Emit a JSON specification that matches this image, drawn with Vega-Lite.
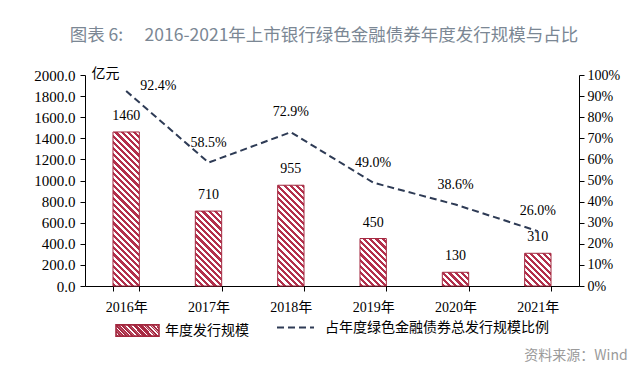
{
  "$schema": "https://vega.github.io/schema/vega-lite/v6.json",
  "background": "white",
  "padding": {"left": 33, "top": 26, "right": 5, "bottom": 2},
  "params": [
    {"name": "hatch", "value": [
      {"offset": 0, "color": "#b3304c"}, {"offset": 0.01667, "color": "#b3304c"}, {"offset": 0.01667, "color": "#fff"}, {"offset": 0.03333, "color": "#fff"},
      {"offset": 0.03333, "color": "#b3304c"}, {"offset": 0.05, "color": "#b3304c"}, {"offset": 0.05, "color": "#fff"}, {"offset": 0.06667, "color": "#fff"},
      {"offset": 0.06667, "color": "#b3304c"}, {"offset": 0.08333, "color": "#b3304c"}, {"offset": 0.08333, "color": "#fff"}, {"offset": 0.1, "color": "#fff"},
      {"offset": 0.1, "color": "#b3304c"}, {"offset": 0.11667, "color": "#b3304c"}, {"offset": 0.11667, "color": "#fff"}, {"offset": 0.13333, "color": "#fff"},
      {"offset": 0.13333, "color": "#b3304c"}, {"offset": 0.15, "color": "#b3304c"}, {"offset": 0.15, "color": "#fff"}, {"offset": 0.16667, "color": "#fff"},
      {"offset": 0.16667, "color": "#b3304c"}, {"offset": 0.18333, "color": "#b3304c"}, {"offset": 0.18333, "color": "#fff"}, {"offset": 0.2, "color": "#fff"},
      {"offset": 0.2, "color": "#b3304c"}, {"offset": 0.21667, "color": "#b3304c"}, {"offset": 0.21667, "color": "#fff"}, {"offset": 0.23333, "color": "#fff"},
      {"offset": 0.23333, "color": "#b3304c"}, {"offset": 0.25, "color": "#b3304c"}, {"offset": 0.25, "color": "#fff"}, {"offset": 0.26667, "color": "#fff"},
      {"offset": 0.26667, "color": "#b3304c"}, {"offset": 0.28333, "color": "#b3304c"}, {"offset": 0.28333, "color": "#fff"}, {"offset": 0.3, "color": "#fff"},
      {"offset": 0.3, "color": "#b3304c"}, {"offset": 0.31667, "color": "#b3304c"}, {"offset": 0.31667, "color": "#fff"}, {"offset": 0.33333, "color": "#fff"},
      {"offset": 0.33333, "color": "#b3304c"}, {"offset": 0.35, "color": "#b3304c"}, {"offset": 0.35, "color": "#fff"}, {"offset": 0.36667, "color": "#fff"},
      {"offset": 0.36667, "color": "#b3304c"}, {"offset": 0.38333, "color": "#b3304c"}, {"offset": 0.38333, "color": "#fff"}, {"offset": 0.4, "color": "#fff"},
      {"offset": 0.4, "color": "#b3304c"}, {"offset": 0.41667, "color": "#b3304c"}, {"offset": 0.41667, "color": "#fff"}, {"offset": 0.43333, "color": "#fff"},
      {"offset": 0.43333, "color": "#b3304c"}, {"offset": 0.45, "color": "#b3304c"}, {"offset": 0.45, "color": "#fff"}, {"offset": 0.46667, "color": "#fff"},
      {"offset": 0.46667, "color": "#b3304c"}, {"offset": 0.48333, "color": "#b3304c"}, {"offset": 0.48333, "color": "#fff"}, {"offset": 0.5, "color": "#fff"},
      {"offset": 0.5, "color": "#b3304c"}, {"offset": 0.51667, "color": "#b3304c"}, {"offset": 0.51667, "color": "#fff"}, {"offset": 0.53333, "color": "#fff"},
      {"offset": 0.53333, "color": "#b3304c"}, {"offset": 0.55, "color": "#b3304c"}, {"offset": 0.55, "color": "#fff"}, {"offset": 0.56667, "color": "#fff"},
      {"offset": 0.56667, "color": "#b3304c"}, {"offset": 0.58333, "color": "#b3304c"}, {"offset": 0.58333, "color": "#fff"}, {"offset": 0.6, "color": "#fff"},
      {"offset": 0.6, "color": "#b3304c"}, {"offset": 0.61667, "color": "#b3304c"}, {"offset": 0.61667, "color": "#fff"}, {"offset": 0.63333, "color": "#fff"},
      {"offset": 0.63333, "color": "#b3304c"}, {"offset": 0.65, "color": "#b3304c"}, {"offset": 0.65, "color": "#fff"}, {"offset": 0.66667, "color": "#fff"},
      {"offset": 0.66667, "color": "#b3304c"}, {"offset": 0.68333, "color": "#b3304c"}, {"offset": 0.68333, "color": "#fff"}, {"offset": 0.7, "color": "#fff"},
      {"offset": 0.7, "color": "#b3304c"}, {"offset": 0.71667, "color": "#b3304c"}, {"offset": 0.71667, "color": "#fff"}, {"offset": 0.73333, "color": "#fff"},
      {"offset": 0.73333, "color": "#b3304c"}, {"offset": 0.75, "color": "#b3304c"}, {"offset": 0.75, "color": "#fff"}, {"offset": 0.76667, "color": "#fff"},
      {"offset": 0.76667, "color": "#b3304c"}, {"offset": 0.78333, "color": "#b3304c"}, {"offset": 0.78333, "color": "#fff"}, {"offset": 0.8, "color": "#fff"},
      {"offset": 0.8, "color": "#b3304c"}, {"offset": 0.81667, "color": "#b3304c"}, {"offset": 0.81667, "color": "#fff"}, {"offset": 0.83333, "color": "#fff"},
      {"offset": 0.83333, "color": "#b3304c"}, {"offset": 0.85, "color": "#b3304c"}, {"offset": 0.85, "color": "#fff"}, {"offset": 0.86667, "color": "#fff"},
      {"offset": 0.86667, "color": "#b3304c"}, {"offset": 0.88333, "color": "#b3304c"}, {"offset": 0.88333, "color": "#fff"}, {"offset": 0.9, "color": "#fff"},
      {"offset": 0.9, "color": "#b3304c"}, {"offset": 0.91667, "color": "#b3304c"}, {"offset": 0.91667, "color": "#fff"}, {"offset": 0.93333, "color": "#fff"},
      {"offset": 0.93333, "color": "#b3304c"}, {"offset": 0.95, "color": "#b3304c"}, {"offset": 0.95, "color": "#fff"}, {"offset": 0.96667, "color": "#fff"},
      {"offset": 0.96667, "color": "#b3304c"}, {"offset": 0.98333, "color": "#b3304c"}, {"offset": 0.98333, "color": "#fff"}, {"offset": 1, "color": "#fff"}
    ]}
  ],
  "datasets": {
    "d": [
      {"year": "2016年", "value": 1460, "pct": 0.924},
      {"year": "2017年", "value": 710, "pct": 0.585},
      {"year": "2018年", "value": 955, "pct": 0.729},
      {"year": "2019年", "value": 450, "pct": 0.49},
      {"year": "2020年", "value": 130, "pct": 0.386},
      {"year": "2021年", "value": 310, "pct": 0.26}
    ]
  },
  "title": {
    "text": "资料来源：Wind",
    "orient": "bottom",
    "anchor": "end",
    "font": "Noto Sans CJK SC",
    "fontSize": 14,
    "fontWeight": "normal",
    "color": "#9a9a9a",
    "offset": 9,
    "dx": 8
  },
  "vconcat": [
    {
      "title": {
        "text": "图表 6:\u3000 2016-2021年上市银行绿色金融债券年度发行规模与占比",
        "font": "Noto Sans CJK SC",
        "fontSize": 17.5,
        "fontWeight": "normal",
        "color": "#7b8794",
        "anchor": "middle",
        "offset": 22,
        "dx": -8
      },
      "width": 494,
      "height": 211,
      "data": {"name": "d"},
      "encoding": {
        "x": {
          "field": "year",
          "type": "nominal",
          "sort": null,
          "scale": {"domain": ["2016年", "2017年", "2018年", "2019年", "2020年", "2021年"], "paddingInner": 0.68, "paddingOuter": 0.34},
          "axis": {"title": null, "labelAngle": 0, "tickBand": "extent", "labelPadding": 9, "labelFont": "Liberation Serif, Noto Sans CJK SC"}
        }
      },
      "layer": [
        {
          "encoding": {
            "y": {
              "field": "value",
              "type": "quantitative",
              "scale": {"domain": [0, 2000], "nice": false},
              "axis": {
                "orient": "left",
                "title": "亿元",
                "titleAngle": 0,
                "titleAlign": "left",
                "titleBaseline": "middle",
                "titleX": 6,
                "titleY": -2,
                "titleFont": "Noto Sans CJK SC",
                "titleFontSize": 14,
                "titleFontWeight": "normal",
                "titleColor": "#000",
                "format": ".1f",
                "tickCount": 10,
                "labelFontSize": 15,
                "labelPadding": 5
              }
            }
          },
          "layer": [
            {
              "mark": {"type": "bar", "strokeWidth": 1},
              "encoding": {
                "fill": {"value": {"expr": "{gradient:'linear',x1:0,y1:1,x2:186*26.35/(694.3+pow(datum.value*0.1055,2)),y2:1-186*datum.value*0.1055/(694.3+pow(datum.value*0.1055,2)),stops:hatch}"}},
                "stroke": {
                  "datum": "年度发行规模",
                  "type": "nominal",
                  "scale": {"range": ["#a3283f"]},
                  "legend": {
                    "title": null,
                    "symbolType": "M-1,-0.26H1V0.26H-1Z M-1,-0.26L-0.48,0.26 M-0.72,-0.26L-0.2,0.26 M-0.44,-0.26L0.08,0.26 M-0.16,-0.26L0.36,0.26 M0.12,-0.26L0.64,0.26 M0.4,-0.26L0.92,0.26 M0.68,-0.26L1,0.06 M-1,0.02L-0.76,0.26",
                    "symbolSize": 1849,
                    "symbolStrokeWidth": 1.6,
                    "symbolFillColor": "#ffffff",
                    "labelOffset": 5
                  }
                }
              }
            },
            {
              "mark": {"type": "text", "baseline": "middle", "dy": -16},
              "encoding": {"text": {"field": "value", "type": "quantitative", "format": "d"}}
            }
          ]
        },
        {
          "encoding": {
            "y": {
              "field": "pct",
              "type": "quantitative",
              "scale": {"domain": [0, 1], "nice": false},
              "axis": {"orient": "right", "title": null, "format": ".0%", "tickCount": 10, "labelPadding": 3}
            }
          },
          "layer": [
            {
              "mark": {"type": "line", "color": "#2e3b55", "strokeWidth": 2},
              "encoding": {
                "strokeDash": {
                  "datum": "占年度绿色金融债券总发行规模比例",
                  "type": "nominal",
                  "scale": {"range": [[7, 4]]},
                  "legend": {
                    "title": null,
                    "symbolType": "stroke",
                    "symbolSize": 1369,
                    "symbolStrokeWidth": 2,
                    "symbolStrokeColor": "#2e3b55",
                    "labelOffset": 10
                  }
                }
              }
            },
            {
              "transform": [{"filter": "datum.year !== '2016年'"}],
              "mark": {"type": "text", "baseline": "middle", "dy": -20},
              "encoding": {"text": {"field": "pct", "type": "quantitative", "format": ".1%"}}
            },
            {
              "transform": [{"filter": "datum.year === '2016年'"}],
              "mark": {"type": "text", "baseline": "middle", "align": "left", "dx": 14, "dy": -5},
              "encoding": {"text": {"field": "pct", "type": "quantitative", "format": ".1%"}}
            }
          ]
        }
      ],
      "resolve": {"scale": {"y": "independent"}}
    }
  ],
  "config": {
    "view": {"stroke": null},
    "axis": {
      "grid": false,
      "domainColor": "#000",
      "domainWidth": 1,
      "tickColor": "#000",
      "tickWidth": 1,
      "tickSize": 5,
      "labelColor": "#000",
      "labelFont": "Liberation Serif",
      "labelFontSize": 14
    },
    "legend": {
      "orient": "bottom",
      "direction": "horizontal",
      "labelFont": "Noto Sans CJK SC",
      "labelFontSize": 14,
      "labelColor": "#000",
      "labelLimit": 0,
      "offset": -6,
      "layout": {"bottom": {"anchor": "middle", "direction": "horizontal", "margin": 27}}
    },
    "text": {"font": "Liberation Serif", "fontSize": 14, "color": "#000"}
  }
}
